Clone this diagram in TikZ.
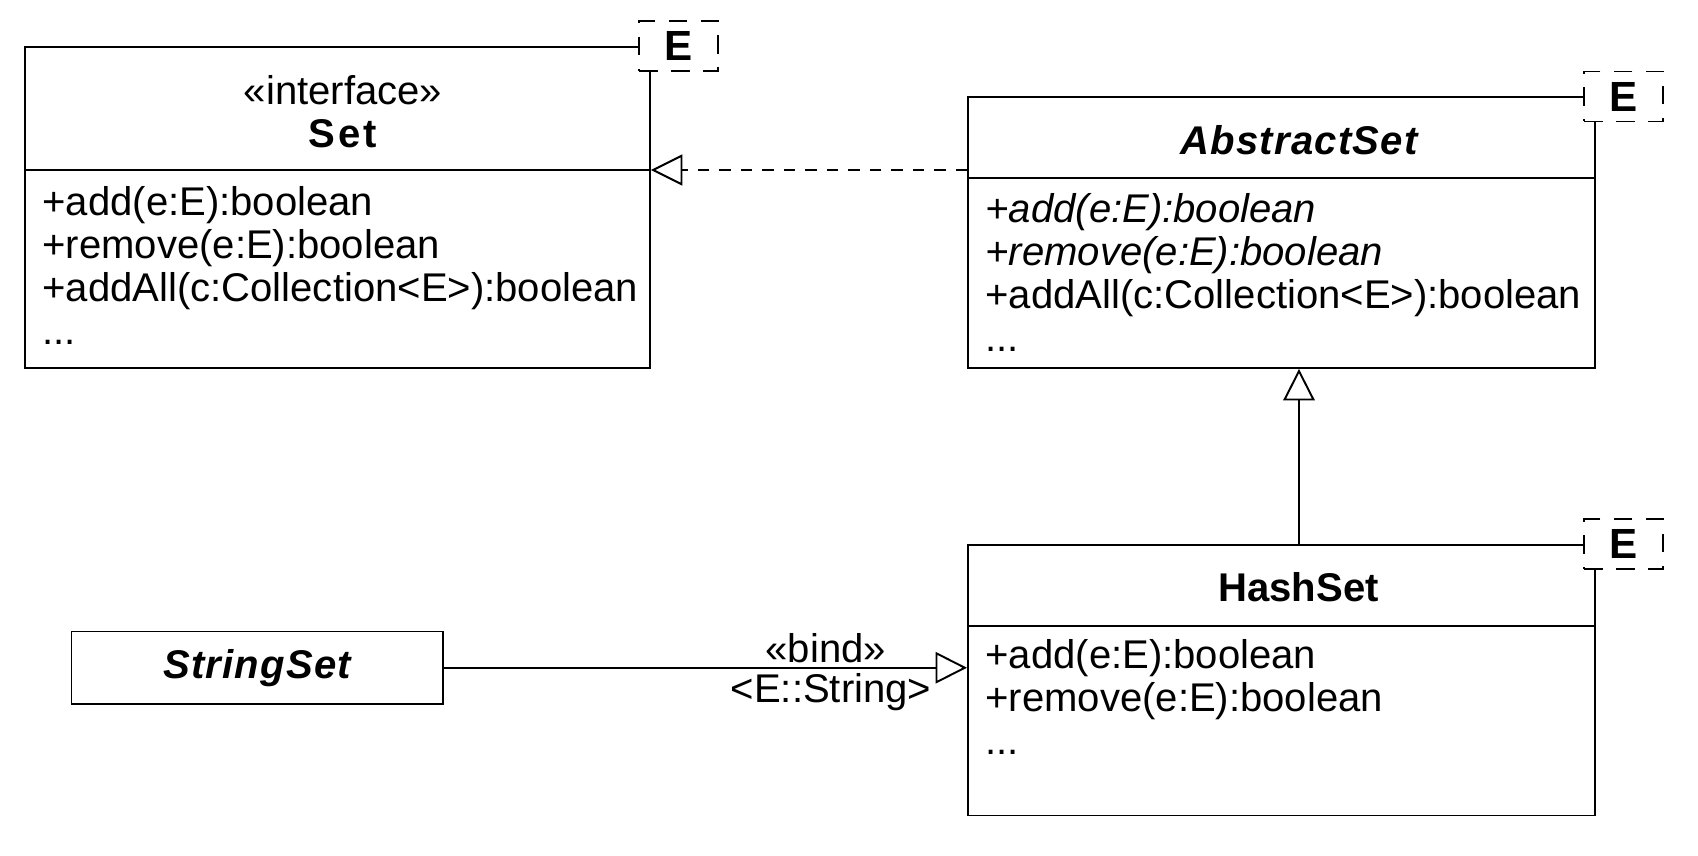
\documentclass[tikz,border=0pt]{standalone}
\usepackage{fontspec}
\setmainfont{Liberation Sans}
\usepackage{tikz}
\usetikzlibrary{arrows.meta,calc,positioning}
\newcommand\umlsize{\fontsize{22.8pt}{24.5pt}\selectfont}
\tikzset{
  umlfig/.style={line width=1.1pt,
    every node/.style={font=\umlsize,inner sep=0pt}},
  classbox/.style={draw,anchor=north west,inner sep=0pt},
  classname/.style={font=\umlsize\bfseries},
  spacedname/.style={font=\umlsize\bfseries\addfontfeature{LetterSpace=3}},
  opslist/.style={align=left,anchor=north west},
  tparam/.style={draw,dash pattern=on 0.37cm off 0.27cm,fill=white,
    minimum width=1.58cm,minimum height=1cm,
    font=\fontsize{24pt}{24pt}\selectfont\bfseries},
  realize/.style={dash pattern=on 0.23cm off 0.2cm,
    -{Triangle[open,length=0.63cm,width=0.62cm]}},
  inherit/.style={-{Triangle[open,length=0.63cm,width=0.63cm]}},
  bindlabel/.style={font=\umlsize,inner sep=2.5pt},
}

\begin{document}
\begin{tikzpicture}[umlfig]
    \useasboundingbox (0,0) rectangle (33.96,-17.12);

    % interface Set
    \node[classbox,minimum width=12.5cm,minimum height=6.42cm] (set) at (0.48,-0.92) {};
    \coordinate (setdiv) at (0.48,-3.40);
    \draw (setdiv) -- (setdiv -| set.east);
    \node[align=center] (settitle) at (6.86,-2.24)
      {«interface»\\{\bfseries\addfontfeature{LetterSpace=8}Set}};
    \node[opslist] (setops) at ([xshift=0.35cm,yshift=-0.31cm]setdiv)
      {+add(e:E):boolean\\+remove(e:E):boolean\\+addAll(c:Collection<E>):boolean\\...};
    \node[tparam] (setE) at ([xshift=0.56cm]set.north east) {E};

    % AbstractSet
    \node[classbox,minimum width=12.54cm,minimum height=5.41cm] (abstractset) at (19.34,-1.93) {};
    \coordinate (asdiv) at (19.34,-3.56);
    \draw (asdiv) -- (asdiv -| abstractset.east);
    \node[spacedname] (astitle) at (25.98,-2.80) {\itshape AbstractSet};
    \node[opslist] (asops) at ([xshift=0.35cm,yshift=-0.29cm]asdiv)
      {\itshape +add(e:E):boolean\\\itshape +remove(e:E):boolean\\+addAll(c:Collection<E>):boolean\\...};
    \node[tparam] (asE) at ([xshift=0.56cm]abstractset.north east) {E};

    % HashSet
    \node[classbox,minimum width=12.54cm,minimum height=5.41cm] (hashset) at (19.34,-10.88) {};
    \coordinate (hsdiv) at (19.34,-12.52);
    \draw (hsdiv) -- (hsdiv -| hashset.east);
    \node[classname] (hstitle) at (25.97,-11.74) {HashSet};
    \node[opslist] (hsops) at ([xshift=0.35cm,yshift=-0.25cm]hsdiv)
      {+add(e:E):boolean\\+remove(e:E):boolean\\...};
    \node[tparam] (hsE) at ([xshift=0.56cm]hashset.north east) {E};

    % StringSet
    \node[draw,spacedname,minimum width=7.43cm,minimum height=1.45cm]
      (stringset) at (5.145,-13.355) {\itshape StringSet};

    \draw[realize] (abstractset.west |- setdiv) -- (setdiv -| set.east);
    \draw[inherit] (hashset.north -| astitle) -- (abstractset.south -| astitle);
    \draw[inherit] (stringset) --
      node[bindlabel,above,pos=0.73] {«bind»}
      node[bindlabel,below,pos=0.74] {<E::String>} (hashset.west |- stringset);
\end{tikzpicture}
\end{document}
